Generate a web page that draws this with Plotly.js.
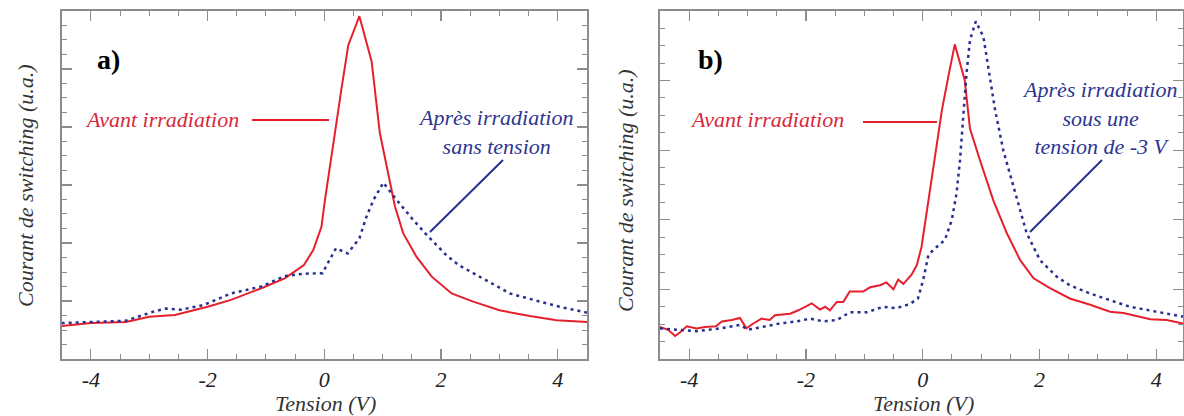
<!DOCTYPE html>
<html>
<head>
<meta charset="utf-8">
<script src="https://cdn.plot.ly/plotly-3.0.1.min.js"></script>
<style>
html,body{margin:0;padding:0;background:#fff;}
#chart{width:1184px;height:416px;}
</style>
</head>
<body>
<div id="chart"></div>
<script>
// ---- Panel a) ----
const aAvantX = [-4.5,-4.0,-3.4,-3.0,-2.56,-2.0,-1.6,-1.08,-0.68,-0.35,-0.19,-0.05,0.01,0.09,0.18,0.29,0.41,0.6,0.81,0.95,1.07,1.21,1.35,1.58,1.84,2.18,2.55,3.0,3.52,3.98,4.5];
const aAvantY = [0.57,0.62,0.64,0.73,0.76,0.9,1.02,1.22,1.39,1.62,1.88,2.28,2.74,3.32,3.89,4.64,5.41,5.91,5.13,3.9,3.32,2.63,2.17,1.76,1.42,1.13,0.99,0.84,0.74,0.67,0.64];
const aApresX = [-4.5,-4.0,-3.4,-2.92,-2.72,-2.46,-2.07,-1.6,-1.08,-0.68,-0.35,-0.03,0.03,0.2,0.4,0.6,0.72,0.84,1.01,1.24,1.52,1.78,2.09,2.3,2.66,3.18,3.69,4.03,4.5];
const aApresY = [0.62,0.64,0.66,0.82,0.87,0.85,0.93,1.13,1.25,1.43,1.47,1.48,1.6,1.91,1.82,2.08,2.45,2.74,3.04,2.74,2.4,2.11,1.79,1.62,1.42,1.13,0.99,0.9,0.8];

// ---- Panel b) ----
const bAvantX = [-4.5,-4.36,-4.24,-4.16,-4.04,-3.87,-3.73,-3.54,-3.44,-3.27,-3.13,-3.02,-2.9,-2.76,-2.62,-2.53,-2.27,-2.13,-1.9,-1.76,-1.67,-1.59,-1.47,-1.36,-1.25,-1.02,-0.9,-0.73,-0.62,-0.5,-0.42,-0.33,-0.19,-0.1,-0.02,0.1,0.21,0.33,0.44,0.55,0.72,0.81,0.98,1.21,1.44,1.67,1.9,2.18,2.52,2.87,3.21,3.44,3.9,4.18,4.46];
const bAvantY = [0.46,0.42,0.33,0.38,0.47,0.44,0.46,0.47,0.54,0.56,0.59,0.44,0.51,0.58,0.56,0.63,0.65,0.7,0.8,0.71,0.75,0.70,0.82,0.82,0.97,0.97,1.03,1.06,1.1,1.0,1.14,1.08,1.21,1.35,1.61,2.28,2.86,3.58,4.06,4.52,4.01,3.31,2.86,2.28,1.81,1.42,1.16,1.02,0.87,0.78,0.68,0.66,0.57,0.56,0.51];
const bApresX = [-4.5,-4.22,-3.87,-3.47,-3.13,-2.99,-2.73,-2.45,-2.16,-1.93,-1.7,-1.47,-1.25,-0.96,-0.68,-0.45,-0.22,-0.08,0.01,0.1,0.24,0.38,0.5,0.58,0.64,0.7,0.75,0.81,0.91,1.04,1.12,1.24,1.38,1.55,1.78,2.01,2.3,2.52,2.87,3.55,4.01,4.46];
const bApresY = [0.44,0.42,0.40,0.44,0.49,0.42,0.46,0.51,0.54,0.58,0.54,0.56,0.67,0.67,0.75,0.73,0.79,0.87,1.14,1.5,1.61,1.71,2.0,2.38,2.86,3.48,4.1,4.58,4.85,4.63,4.2,3.58,3.0,2.48,1.81,1.42,1.18,1.06,0.94,0.75,0.68,0.61];

const xTickVals = [-4,-2,0,2,4];
const xTickText = ['-4','-2','0','2','4'];

const RED = '#e5202c';
const BLUE = '#27318f';
const SERIF = '"Liberation Serif", "DejaVu Serif", serif';

const traces = [
  {x:aAvantX, y:aAvantY, xaxis:'x', yaxis:'y', mode:'lines', line:{color:RED, width:2}, hoverinfo:'skip'},
  {x:aApresX, y:aApresY, xaxis:'x', yaxis:'y', mode:'lines', line:{color:BLUE, width:2.5, dash:'3px,4px'}, hoverinfo:'skip'},
  {x:bAvantX, y:bAvantY, xaxis:'x2', yaxis:'y2', mode:'lines', line:{color:RED, width:2}, hoverinfo:'skip'},
  {x:bApresX, y:bApresY, xaxis:'x2', yaxis:'y2', mode:'lines', line:{color:BLUE, width:2.5, dash:'3px,4px'}, hoverinfo:'skip'}
];

function xax(domain, range){
  return {domain:domain, range:range, showline:true, linecolor:'#8c8c8c', linewidth:1.5, mirror:'ticks',
    ticks:'inside', ticklen:10, tickwidth:1.2, tickcolor:'#8c8c8c', tickvals:xTickVals, ticktext:xTickText,
    showgrid:false, zeroline:false,
    tickfont:{family:SERIF, size:22, color:'#222', style:'italic'},
    minor:{dtick:0.5, tick0:0, ticks:'inside', ticklen:5, tickwidth:1, tickcolor:'#8c8c8c', showgrid:false}};
}
function yax(range, anchor){
  return {domain:[0.137,0.9736], range:range, anchor:anchor, showline:true, linecolor:'#8c8c8c', linewidth:1.5, mirror:'ticks',
    ticks:'inside', ticklen:10, tickwidth:1.2, tickcolor:'#8c8c8c', dtick:1, tick0:0, showticklabels:false,
    showgrid:false, zeroline:false,
    minor:{dtick:0.25, tick0:0, ticks:'inside', ticklen:5, tickwidth:1, tickcolor:'#8c8c8c', showgrid:false}};
}

const layout = {
  width:1184, height:416, margin:{l:0,r:0,t:0,b:0}, paper_bgcolor:'#fff', plot_bgcolor:'#fff',
  showlegend:false,
  xaxis: Object.assign(xax([0.0521,0.4958],[-4.5,4.5]), {anchor:'y'}),
  yaxis: yax([0,6],'x'),
  xaxis2: Object.assign(xax([0.5574,0.9992],[-4.5,4.46]), {anchor:'y2'}),
  yaxis2: yax([0,5],'x2'),
  shapes:[
    {type:'line', xref:'paper', yref:'paper', x0:252/1184, x1:329/1184, y0:1-120/416, y1:1-120/416, line:{color:RED, width:2}},
    {type:'line', xref:'paper', yref:'paper', x0:503/1184, x1:430/1184, y0:1-160/416, y1:1-232/416, line:{color:BLUE, width:2}},
    {type:'line', xref:'paper', yref:'paper', x0:863/1184, x1:937/1184, y0:1-122/416, y1:1-122/416, line:{color:RED, width:2}},
    {type:'line', xref:'paper', yref:'paper', x0:1102/1184, x1:1030/1184, y0:1-160/416, y1:1-232/416, line:{color:BLUE, width:2}}
  ],
  annotations:[
    {text:'a)', xref:'paper', yref:'paper', x:108/1184, y:1-60/416, showarrow:false, xanchor:'center', yanchor:'middle',
     font:{family:SERIF, size:28, color:'#000', weight:'bold'}},
    {text:'b)', xref:'paper', yref:'paper', x:710/1184, y:1-60/416, showarrow:false, xanchor:'center', yanchor:'middle',
     font:{family:SERIF, size:28, color:'#000', weight:'bold'}},
    {text:'Avant irradiation', xref:'paper', yref:'paper', x:162/1184, y:1-119/416, showarrow:false, xanchor:'center', yanchor:'middle',
     font:{family:SERIF, size:22, color:'#d8283c', style:'italic'}},
    {text:'Après irradiation<br>sans tension', xref:'paper', yref:'paper', x:495/1184, y:1-132/416, showarrow:false, xanchor:'center', yanchor:'middle',
     align:'center', font:{family:SERIF, size:22, color:'#2d3591', style:'italic'}},
    {text:'Avant irradiation', xref:'paper', yref:'paper', x:767/1184, y:1-119/416, showarrow:false, xanchor:'center', yanchor:'middle',
     font:{family:SERIF, size:22, color:'#d8283c', style:'italic'}},
    {text:'Après irradiation<br>sous une<br>tension de -3 V', xref:'paper', yref:'paper', x:1099/1184, y:1-118/416, showarrow:false, xanchor:'center', yanchor:'middle',
     align:'center', font:{family:SERIF, size:22, color:'#2d3591', style:'italic'}},
    {text:'Courant de switching (u.a.)', xref:'paper', yref:'paper', x:25/1184, y:1-186/416, showarrow:false, textangle:-90, xanchor:'center', yanchor:'middle',
     font:{family:SERIF, size:22, color:'#333', style:'italic'}},
    {text:'Courant de switching (u.a.)', xref:'paper', yref:'paper', x:625/1184, y:1-191/416, showarrow:false, textangle:-90, xanchor:'center', yanchor:'middle',
     font:{family:SERIF, size:22, color:'#333', style:'italic'}},
    {text:'Tension (V)', xref:'paper', yref:'paper', x:325/1184, y:1-403/416, showarrow:false, xanchor:'center', yanchor:'middle',
     font:{family:SERIF, size:22, color:'#333', style:'italic'}},
    {text:'Tension (V)', xref:'paper', yref:'paper', x:923/1184, y:1-403/416, showarrow:false, xanchor:'center', yanchor:'middle',
     font:{family:SERIF, size:22, color:'#333', style:'italic'}}
  ]
};

Plotly.newPlot('chart', traces, layout, {staticPlot:true, displayModeBar:false});
</script>
</body>
</html>
